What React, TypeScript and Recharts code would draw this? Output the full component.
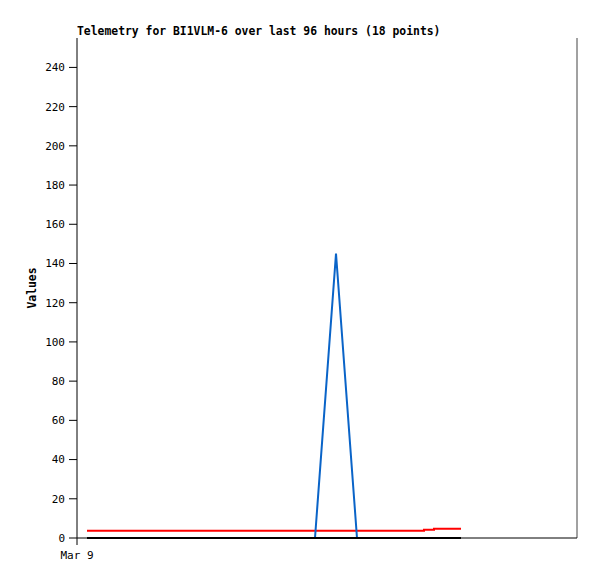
import React from 'react';
import { LineChart, Line, XAxis, YAxis } from 'recharts';

const hours = [2, 8, 14, 20, 26, 32, 38, 44, 47.6, 51.8, 56, 60, 64, 67, 69.4, 71.4, 74, 76.8];
const blueValues = [0, 0, 0, 0, 0, 0, 0, 0, 0, 145, 0, 0, 0, 0, 0, 0, 0, 0];
const redValues = [3.7, 3.7, 3.7, 3.7, 3.7, 3.7, 3.7, 3.7, 3.7, 3.7, 3.7, 3.7, 3.7, 3.7, 4.2, 4.75, 4.75, 4.75];
const blackValues = [0, 0, 0, 0, 0, 0, 0, 0, 0, 0, 0, 0, 0, 0, 0, 0, 0, 0];
const yTicks = [0, 20, 40, 60, 80, 100, 120, 140, 160, 180, 200, 220, 240];
const xTicks = [0];
const xTickLabels = ['Mar 9'];
const title = 'Telemetry for BI1VLM-6 over last 96 hours (18 points)';
const yLabel = 'Values';

const data = hours.map((h, i) => ({
  t: h,
  blue: blueValues[i],
  red: redValues[i],
  black: blackValues[i],
}));

const font = '"DejaVu Sans Mono", monospace';

export default function App() {
  return (
    <div style={{ position: 'absolute', left: 0, top: 0, width: 597, height: 579, background: '#fff' }}>
      <div
        style={{
          position: 'absolute',
          left: 77,
          top: 24,
          fontFamily: font,
          fontSize: 11.4,
          fontWeight: 'bold',
          color: '#000',
          whiteSpace: 'nowrap',
          lineHeight: '14px',
        }}
      >
        {title}
      </div>
      <div
        style={{
          position: 'absolute',
          left: 32,
          top: 288,
          transform: 'translate(-50%, -50%) rotate(-90deg)',
          fontFamily: font,
          fontSize: 11.4,
          fontWeight: 'bold',
          color: '#000',
          whiteSpace: 'nowrap',
        }}
      >
        {yLabel}
      </div>
      <LineChart
        width={597}
        height={579}
        data={data}
        margin={{ top: 38, left: 17, right: 19, bottom: 11 }}
      >
        <XAxis
          xAxisId="top"
          orientation="top"
          dataKey="t"
          type="number"
          domain={[0, 100]}
          tick={false}
          tickLine={false}
          height={0}
          axisLine={{ stroke: '#444', strokeWidth: 1 }}
        />
        <YAxis
          yAxisId="right"
          orientation="right"
          domain={[0, 255]}
          tick={false}
          tickLine={false}
          width={1}
          axisLine={{ stroke: '#444', strokeWidth: 1 }}
        />
        <XAxis
          dataKey="t"
          type="number"
          domain={[0, 100]}
          ticks={xTicks}
          tickFormatter={(v: number) => xTickLabels[xTicks.indexOf(v)] ?? ''}
          tickSize={7}
          tickMargin={6}
          height={30}
          axisLine={{ stroke: '#000', strokeWidth: 1 }}
          tickLine={{ stroke: '#000' }}
          tick={{ fill: '#000', fontFamily: font, fontSize: 11 }}
        />
        <YAxis
          domain={[0, 255]}
          ticks={yTicks}
          width={60}
          tickSize={8}
          tickMargin={4}
          interval={0}
          axisLine={{ stroke: '#000', strokeWidth: 1 }}
          tickLine={{ stroke: '#000' }}
          tick={{ fill: '#000', fontFamily: font, fontSize: 11 }}
        />
        <Line dataKey="red" stroke="#ff0000" strokeWidth={2} dot={false} isAnimationActive={false} type="stepAfter" />
        <Line dataKey="blue" stroke="#0a64c8" strokeWidth={2} dot={false} isAnimationActive={false} type="linear" />
        <Line dataKey="black" stroke="#000" strokeWidth={2} dot={false} isAnimationActive={false} type="linear" />
      </LineChart>
    </div>
  );
}
